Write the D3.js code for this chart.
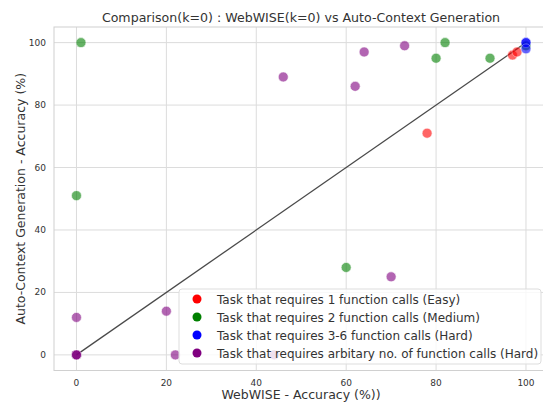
<!DOCTYPE html>
<html>
<head>
<meta charset="utf-8">
<script src="https://cdn.jsdelivr.net/npm/d3@7"></script>
<style>
body { margin: 0; background: #fff; }
svg { font-family: "DejaVu Sans", sans-serif; }
</style>
</head>
<body>
<script>
// data: [webwise accuracy, auto-context accuracy]
var easyPts = [[78, 71], [97, 96], [98, 97]];
var mediumPts = [[1, 100], [0, 51], [60, 28], [80, 95], [82, 100], [92, 95], [100, 99]];
var hardPts = [[100, 100], [100, 100], [100, 98]];
var arbPts = [[46, 89], [62, 86], [64, 97], [73, 99], [0, 12], [20, 14], [22, 0], [44, 0], [70, 25], [0, 0], [0, 0], [0, 0]];

var seriesNames = [
    "Task that requires 1 function calls (Easy)",
    "Task that requires 2 function calls (Medium)",
    "Task that requires 3-6 function calls (Hard)",
    "Task that requires arbitary no. of function calls (Hard)"
];
var seriesColors = ["#ff0000", "#008000", "#0000ff", "#800080"];
var xTicks = [0, 20, 40, 60, 80, 100];
var yTicks = [0, 20, 40, 60, 80, 100];

function init(){
    var width = 543, height = 404;
    var margin = {left: 54, top: 27, bottom: 370.5};
    var svg = d3.select("body").append("svg")
        .attr("width", width)
        .attr("height", height);

    var x = d3.scaleLinear().domain([-5, 105]).range([margin.left, margin.left + 110 * 4.495]);
    var y = d3.scaleLinear().domain([-5, 105]).range([margin.bottom, margin.top]);

    // grid
    svg.append("g").selectAll("line").data(xTicks).enter().append("line")
        .attr("x1", d => x(d)).attr("x2", d => x(d))
        .attr("y1", y(-5)).attr("y2", y(105))
        .attr("stroke", "#dcdcdc").attr("stroke-width", 1);
    svg.append("g").selectAll("line").data(yTicks).enter().append("line")
        .attr("y1", d => y(d)).attr("y2", d => y(d))
        .attr("x1", x(-5)).attr("x2", x(105))
        .attr("stroke", "#dcdcdc").attr("stroke-width", 1);

    // frame
    svg.append("rect")
        .attr("x", x(-5)).attr("y", y(105))
        .attr("width", x(105) - x(-5)).attr("height", y(-5) - y(105))
        .attr("fill", "none").attr("stroke", "#d0d0d0").attr("stroke-width", 1);

    // tick labels
    svg.append("g").selectAll("text").data(xTicks).enter().append("text")
        .attr("x", d => x(d)).attr("y", y(-5) + 15)
        .attr("text-anchor", "middle")
        .attr("font-size", 9).attr("fill", "#333")
        .text(d => d);
    svg.append("g").selectAll("text").data(yTicks).enter().append("text")
        .attr("x", x(-5) - 8).attr("y", d => y(d) + 3)
        .attr("text-anchor", "end")
        .attr("font-size", 9).attr("fill", "#333")
        .text(d => d);

    // diagonal
    svg.append("line")
        .attr("x1", x(0)).attr("y1", y(0))
        .attr("x2", x(100)).attr("y2", y(100))
        .attr("stroke", "#4a4a4a").attr("stroke-width", 1.3);

    var allSeries = [easyPts, mediumPts, hardPts, arbPts];
    allSeries.forEach(function(pts, i){
        svg.append("g").selectAll("circle").data(pts).enter().append("circle")
            .attr("cx", d => x(d[0])).attr("cy", d => y(d[1]))
            .attr("r", 5)
            .attr("fill", seriesColors[i])
            .attr("stroke", "#fff").attr("stroke-width", 0.6)
            .attr("opacity", 0.6);
    });

    // title and labels
    svg.append("text")
        .attr("x", 301).attr("y", 22)
        .attr("text-anchor", "middle")
        .attr("font-size", 12.6).attr("fill", "#333")
        .text("Comparison(k=0) : WebWISE(k=0) vs Auto-Context Generation");
    svg.append("text")
        .attr("x", 301).attr("y", 399)
        .attr("text-anchor", "middle")
        .attr("font-size", 12.5).attr("fill", "#333")
        .text("WebWISE - Accuracy (%))");
    svg.append("text")
        .attr("transform", "translate(25," + ((margin.top + margin.bottom) / 2) + ") rotate(-90)")
        .attr("text-anchor", "middle")
        .attr("font-size", 12.5).attr("fill", "#333")
        .text("Auto-Context Generation - Accuracy (%)");

    // legend
    var lg = svg.append("g").attr("transform", "translate(179,289)");
    lg.append("rect")
        .attr("width", 362).attr("height", 75).attr("rx", 3)
        .attr("fill", "#fff").attr("fill-opacity", 0.8)
        .attr("stroke", "#ddd");
    var rows = lg.selectAll("g.row").data(seriesNames).enter().append("g")
        .attr("transform", (d, i) => "translate(0," + (10 + i * 18) + ")");
    rows.append("circle")
        .attr("cx", 18).attr("cy", 0).attr("r", 4.5)
        .attr("fill", (d, i) => seriesColors[i]);
    rows.append("text")
        .attr("x", 38).attr("y", 4.5)
        .attr("font-size", 12).attr("fill", "#333")
        .text(d => d);
}

window.onload = init;
</script>
</body>
</html>
